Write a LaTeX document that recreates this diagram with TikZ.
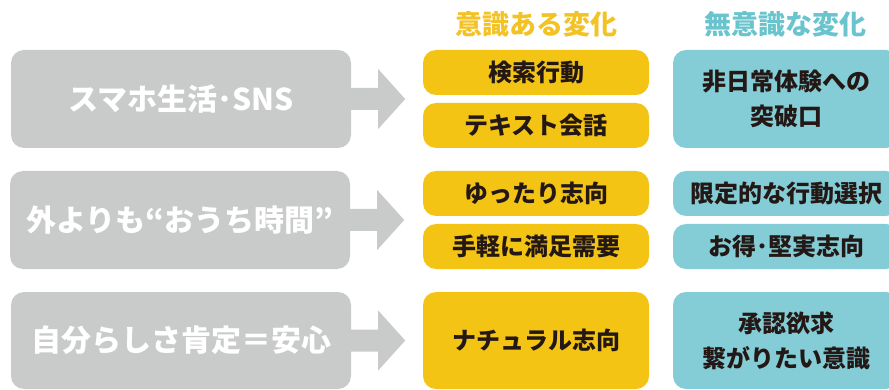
\documentclass[tikz,border=0pt]{standalone}
\usepackage{fontspec}
\setmainfont{Noto Sans CJK JP}
\newcommand{\pquote}[1]{{\addfontfeature{RawFeature=+palt}#1}}
\definecolor{boxgray}{HTML}{C9CACA}
\definecolor{boxyellow}{HTML}{F4C414}
\definecolor{boxteal}{HTML}{84CDD6}
\definecolor{headyellow}{HTML}{F3C326}
\definecolor{headteal}{HTML}{69C4CE}
\definecolor{textdark}{HTML}{231815}
\tikzset{
  graybox/.style={fill=boxgray, rounded corners=13pt, minimum width=340pt, text=white,
    font=\fontsize{30}{34}\selectfont\bfseries, inner sep=0pt},
  ybox/.style={fill=boxyellow, rounded corners=13pt, minimum width=226pt, text=textdark,
    font=\fontsize{24}{35}\selectfont\bfseries, inner sep=0pt, align=center},
  tbox/.style={fill=boxteal, rounded corners=13pt, minimum width=226pt, text=textdark,
    font=\fontsize{24}{35}\selectfont\bfseries, inner sep=0pt, align=center},
  header/.style={font=\fontsize{27}{30}\selectfont\bfseries, inner sep=0pt},
  blockarrow/.style={fill=boxgray}
}
\begin{document}
\begin{tikzpicture}[x=1pt,y=-1pt]
\useasboundingbox (0,0) rectangle (889,390);
\clip (0,0) rectangle (889,390);
% headers
\node[header, text=headyellow] (h1) at (536,24) {意識ある変化};
\node[header, text=headteal] (h2) at (785,24) {無意識な変化};
% gray boxes
\node[graybox, minimum height=98pt] (g1) at (181,99) {スマホ生活･SNS};
\node[graybox, minimum height=98pt] (g2) at (180,220) {外よりも\pquote{“}おうち時間\pquote{”}};
\node[graybox, minimum height=97pt] (g3) at (181,340.5) {自分らしさ肯定＝安心};
% block arrows
\foreach \g in {g1,g2,g3}{
  \fill[blockarrow] ([xshift=-2pt,yshift=11pt]\g.east) -- ++(29pt,0pt) -- ++(0pt,19pt)
    -- ++(27pt,-30pt) -- ++(-27pt,-30pt) -- ++(0pt,19pt) -- ++(-29pt,0pt) -- cycle;
}
% yellow boxes
\node[ybox, minimum height=45pt] (y1a) at (536,72.5) {検索行動};
\node[ybox, minimum height=45pt] (y1b) at (536,125.5) {テキスト会話};
\node[ybox, minimum height=45pt] (y2a) at (536,193.5) {ゆったり志向};
\node[ybox, minimum height=45pt] (y2b) at (536,246.5) {手軽に満足需要};
\node[ybox, minimum height=97pt] (y3) at (536,340.5) {ナチュラル志向};
% teal boxes
\node[tbox, minimum height=98pt] (t1) at (786,99) {非日常体験への\\突破口};
\node[tbox, minimum height=45pt] (t2a) at (786,193.5) {限定的な行動選択};
\node[tbox, minimum height=45pt] (t2b) at (786,246.5) {お得･堅実志向};
\node[tbox, minimum height=97pt] (t3) at (786,340.5) {承認欲求\\繋がりたい意識};
\end{tikzpicture}
\end{document}
